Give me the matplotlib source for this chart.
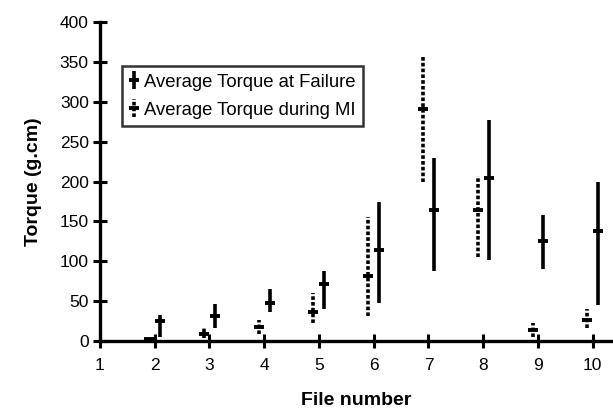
import matplotlib
matplotlib.use("Agg")
import matplotlib.pyplot as plt
import numpy as np

plt.rcParams['font.family'] = ['Liberation Sans', 'DejaVu Sans']

files = [2, 3, 4, 5, 6, 7, 8, 9, 10]
fail_mean = [25, 31, 48, 71, 114, 165, 205, 125, 138]
fail_low = [5, 16, 37, 40, 48, 88, 102, 90, 45]
fail_high = [33, 46, 65, 88, 174, 230, 277, 158, 200]
mi_mean = [2, 9, 18, 36, 82, 291, 164, 14, 27]
mi_low = [0, 4, 9, 23, 31, 199, 106, 5, 16]
mi_high = [4, 16, 26, 60, 156, 357, 207, 23, 40]
xticks = [1, 2, 3, 4, 5, 6, 7, 8, 9, 10]
yticks = [0, 50, 100, 150, 200, 250, 300, 350, 400]

fig = plt.figure(figsize=(6.13, 4.18), dpi=100)
ax = fig.add_axes([0.163, 0.184, 0.837, 0.763])

x = np.array(files, dtype=float)
fm = np.array(fail_mean); mm = np.array(mi_mean)
fe = [fm - np.array(fail_low), np.array(fail_high) - fm]
me = [mm - np.array(mi_low), np.array(mi_high) - mm]

eb1 = ax.errorbar(x + 0.1, fm, yerr=fe, fmt='_', color='black', ms=7.5, mew=2.8,
                  elinewidth=2.6, capsize=0, label='Average Torque at Failure', zorder=3)
eb2 = ax.errorbar(x - 0.1, mm, yerr=me, fmt='_', color='black', ms=7.5, mew=2.8,
                  elinewidth=2.6, capsize=0, label='Average Torque during MI', zorder=3)
eb2[2][0].set_linestyle((0, (1, 0.6)))

ax.set_xlim(1, 10.37)
ax.set_ylim(0, 400)
ax.set_xticks(xticks)
ax.set_yticks(yticks)
for s in ['top', 'right']:
    ax.spines[s].set_visible(False)
for s in ['left', 'bottom']:
    ax.spines[s].set_linewidth(2.4)
ax.spines['left'].set_bounds(0, 400)
ax.tick_params(direction='inout', length=10, width=2.2, labelsize=12.5, pad=3)
ax.tick_params(axis='x', pad=7)

ax.set_xlabel('File number', fontsize=14, fontweight='bold', labelpad=14)
ax.set_ylabel('Torque (g.cm)', fontsize=14, fontweight='bold', labelpad=13)

leg = ax.legend(loc='upper left', bbox_to_anchor=(0.044, 0.862), fontsize=13.3,
                frameon=True, fancybox=False, edgecolor='black', handlelength=0.4,
                handletextpad=0.35, borderpad=0.4, labelspacing=0.6, borderaxespad=0)
leg.get_frame().set_linewidth(1.8)

fig.savefig('out.png', dpi=100)
